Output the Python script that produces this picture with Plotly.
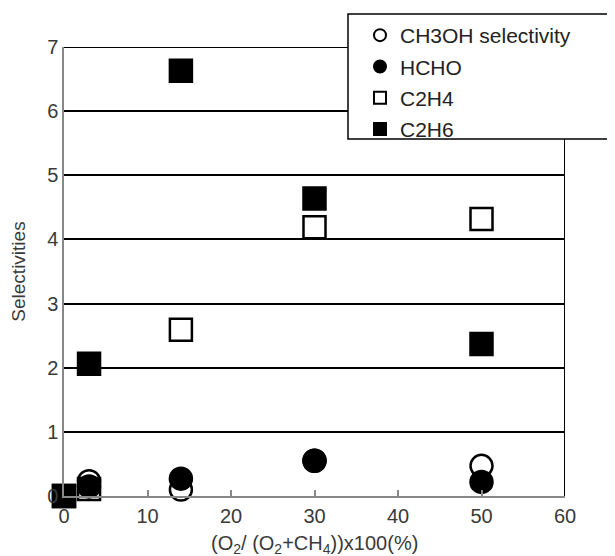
import plotly.graph_objects as go

x_vals = [0, 3, 14, 30, 50]
ch3oh = [None, 0.23, 0.10, 0.55, 0.47]
hcho = [None, 0.15, 0.27, 0.55, 0.22]
c2h4 = [0, 0.11, 2.59, 4.19, 4.32]
c2h6 = [0, 2.06, 6.63, 4.64, 2.37]

x_ticks = [0, 10, 20, 30, 40, 50, 60]
y_ticks = [0, 1, 2, 3, 4, 5, 6, 7]

FONT = "Liberation Sans, Arial, sans-serif"
TXT = "#3a3a3a"

fig = go.Figure()
series = [
    ("CH3OH selectivity", ch3oh, "circle-open"),
    ("HCHO", hcho, "circle"),
    ("C2H4", c2h4, "square-open"),
    ("C2H6", c2h6, "square"),
]
for name, ys, sym in series:
    fig.add_trace(go.Scatter(
        x=x_vals, y=ys, mode="markers", name=name, legendgroup=name,
        cliponaxis=False,
        marker=dict(symbol=sym, size=22, color="black",
                    line=dict(color="black", width=2.5)),
    ))

# page has an 8px body margin; plot domain on screen: x 64..565, y 47..496
L, T = 56, 39
fig.update_layout(
    width=607, height=548,
    margin=dict(l=L, r=50, t=T, b=60, autoexpand=False),
    paper_bgcolor="white", plot_bgcolor="white",
    font=dict(family=FONT, size=20, color=TXT),
    showlegend=True,
    legend=dict(x=(360 - 64) / 501, y=1 + (47 - 15) / 449, xanchor="left", yanchor="top",
                bgcolor="rgba(0,0,0,0)", borderwidth=0,
                itemsizing="constant", traceorder="grouped",
                tracegroupgap=1,
                font=dict(family=FONT, size=21, color="#222")),
    xaxis=dict(range=[0, 60], tickvals=x_ticks, showgrid=False, zeroline=False,
               showline=True, linecolor="#888", linewidth=1.5, automargin=False,
               ticks="inside", ticklen=6, tickcolor="#888", tickwidth=1.5,
               ticklabelstandoff=1,
               tickfont=dict(size=20, color=TXT)),
    yaxis=dict(range=[0, 7], tickvals=y_ticks, showgrid=True, gridcolor="black",
               gridwidth=2, zeroline=False, automargin=False,
               showline=True, linecolor="#888", linewidth=1.5, ticks="",
               tickfont=dict(size=20, color=TXT),
               title=dict(text="Selectivities", font=dict(size=19, color=TXT), standoff=17)),
    annotations=[
        dict(text="(O<sub>2</sub>/ (O<sub>2</sub>+CH<sub>4</sub>))x100(%)",
             xref="paper", yref="paper", x=(314 - 64) / 501, y=-(544 - 496) / 449,
             xanchor="center", yanchor="middle", showarrow=False,
             font=dict(family=FONT, size=20, color=TXT)),
    ],
    shapes=[
        dict(type="line", xref="x", yref="y", x0=0, x1=60, y0=7, y1=7,
             line=dict(color="black", width=2), layer="above"),
        dict(type="line", xref="x", yref="y", x0=60, x1=60, y0=0, y1=7,
             line=dict(color="black", width=2), layer="above"),
        dict(type="rect", xref="paper", yref="paper",
             x0=(348 - 64) / 501, x1=(613 - 64) / 501,
             y0=1 - (139 - 47) / 449, y1=1 + (47 - 14) / 449,
             fillcolor="white", line=dict(color="black", width=1.5), layer="above"),
    ],
)

fig.write_html("out.html")
